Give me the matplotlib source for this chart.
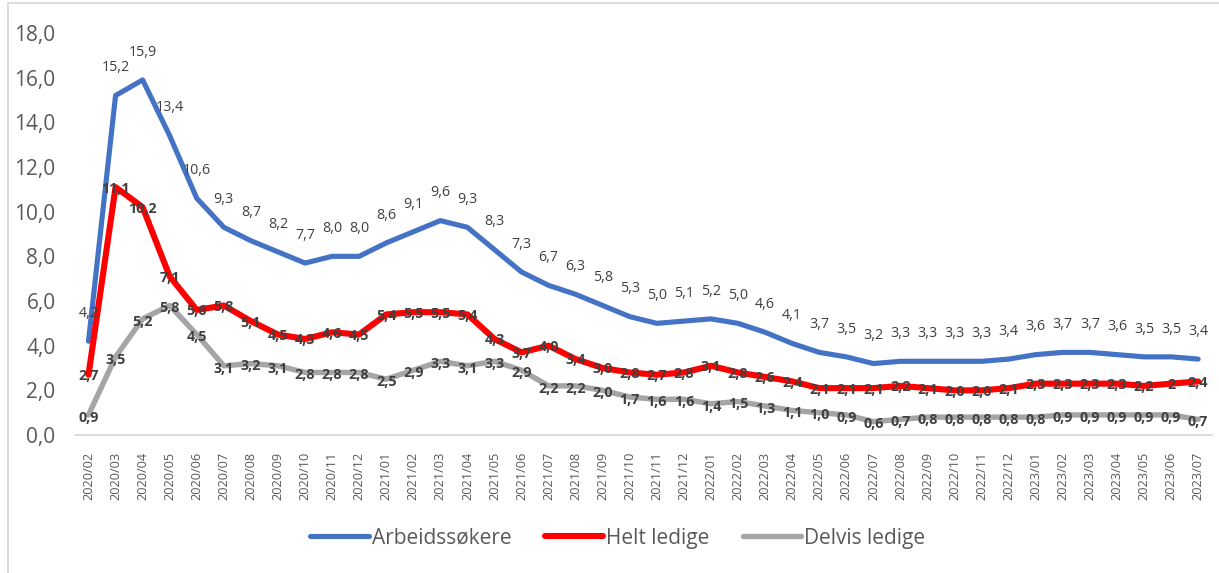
import matplotlib.pyplot as plt
from matplotlib.patches import Rectangle

plt.rcParams['font.family'] = ['Open Sans', 'DejaVu Sans']

months = ['2020/02', '2020/03', '2020/04', '2020/05', '2020/06', '2020/07', '2020/08', '2020/09',
          '2020/10', '2020/11', '2020/12', '2021/01', '2021/02', '2021/03', '2021/04', '2021/05',
          '2021/06', '2021/07', '2021/08', '2021/09', '2021/10', '2021/11', '2021/12', '2022/01',
          '2022/02', '2022/03', '2022/04', '2022/05', '2022/06', '2022/07', '2022/08', '2022/09',
          '2022/10', '2022/11', '2022/12', '2023/01', '2023/02', '2023/03', '2023/04', '2023/05',
          '2023/06', '2023/07']

arbeidssokere = [4.2, 15.2, 15.9, 13.4, 10.6, 9.3, 8.7, 8.2, 7.7, 8.0, 8.0,
                 8.6, 9.1, 9.6, 9.3, 8.3, 7.3, 6.7, 6.3, 5.8, 5.3, 5.0, 5.1,
                 5.2, 5.0, 4.6, 4.1, 3.7, 3.5, 3.2, 3.3, 3.3, 3.3, 3.3, 3.4,
                 3.6, 3.7, 3.7, 3.6, 3.5, 3.5, 3.4]
helt_ledige = [2.7, 11.1, 10.2, 7.1, 5.6, 5.8, 5.1, 4.5, 4.3, 4.6, 4.5,
               5.4, 5.5, 5.5, 5.4, 4.3, 3.7, 4.0, 3.4, 3.0, 2.8, 2.7, 2.8,
               3.1, 2.8, 2.6, 2.4, 2.1, 2.1, 2.1, 2.2, 2.1, 2.0, 2.0, 2.1,
               2.3, 2.3, 2.3, 2.3, 2.2, 2.3, 2.4]
delvis_ledige = [0.9, 3.5, 5.2, 5.8, 4.5, 3.1, 3.2, 3.1, 2.8, 2.8, 2.8,
                 2.5, 2.9, 3.3, 3.1, 3.3, 2.9, 2.2, 2.2, 2.0, 1.7, 1.6, 1.6,
                 1.4, 1.5, 1.3, 1.1, 1.0, 0.9, 0.6, 0.7, 0.8, 0.8, 0.8, 0.8,
                 0.8, 0.9, 0.9, 0.9, 0.9, 0.9, 0.7]


def fmt(v):
    return ('%.1f' % v).replace('.', ',')


helt_labels = [fmt(v) for v in helt_ledige]
helt_labels[-2] = '2'  # shown without decimal in the original

fig = plt.figure(figsize=(12.19, 5.73), dpi=100)
ax = fig.add_axes([0.0615, 0.2408, 0.9325, 0.7016])

x = list(range(len(months)))
ax.plot(x, arbeidssokere, color='#4472C4', lw=3.7, solid_joinstyle='round', solid_capstyle='round', label='Arbeidssøkere')
ax.plot(x, helt_ledige, color='#FF0000', lw=4.4, solid_joinstyle='round', solid_capstyle='round', label='Helt ledige')
ax.plot(x, delvis_ledige, color='#A5A5A5', lw=3.9, solid_joinstyle='round', solid_capstyle='round', label='Delvis ledige')

for i in x:
    ax.annotate(fmt(arbeidssokere[i]), (i, arbeidssokere[i]), xytext=(0, 20), textcoords='offset points',
                ha='center', va='center', fontsize=10.3, color='#404040', annotation_clip=False)
    ax.annotate(helt_labels[i], (i, helt_ledige[i]), xytext=(0, -1), textcoords='offset points',
                ha='center', va='center', fontsize=10.3, fontweight='bold', color='#404040', annotation_clip=False)
    ax.annotate(fmt(delvis_ledige[i]), (i, delvis_ledige[i]), xytext=(0, -2), textcoords='offset points',
                ha='center', va='center', fontsize=10.3, fontweight='bold', color='#404040', annotation_clip=False)

ax.set_xlim(-0.5, len(months) - 0.5)
ax.set_ylim(0, 18)
ax.set_yticks(range(0, 19, 2))
ax.set_yticklabels([fmt(v) for v in range(0, 19, 2)], fontsize=15, color='#595959')
ax.set_xticks(x)
ax.set_xticklabels(months, rotation=90, fontsize=9.2, color='#595959')
ax.tick_params(length=0)
ax.tick_params(axis='x', pad=12)
ax.tick_params(axis='y', pad=14)
for s in ['top', 'right', 'left']:
    ax.spines[s].set_visible(False)
ax.spines['bottom'].set_color('#D9D9D9')
ax.spines['bottom'].set_linewidth(1.3)

fig.legend(loc='center', bbox_to_anchor=(0.507, 0.061), ncol=3, frameon=False, fontsize=15,
           labelcolor='#595959', handlelength=2.8, handletextpad=0.15, columnspacing=1.6)

fig.patches.append(Rectangle((8 / 1219, -0.1), 1.2, 1.1 - 3 / 573, transform=fig.transFigure,
                             fill=False, edgecolor='#D9D9D9', lw=1.3))

fig.savefig('out.png', dpi=100)
